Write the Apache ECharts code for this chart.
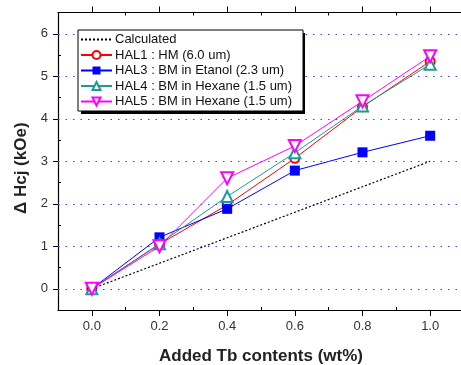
<!DOCTYPE html>
<html>
<head>
<meta charset="utf-8">
<script src="https://cdn.jsdelivr.net/npm/echarts@6/dist/echarts.min.js"></script>
<style>
  html, body { margin: 0; padding: 0; background: #fff; }
  #chart { width: 461px; height: 365px; }
</style>
</head>
<body>
<div id="chart"></div>
<script>
// data
const tbContent = [0.0, 0.2, 0.4, 0.6, 0.8, 1.0];
const calculated = [0, 0.6, 1.2, 1.8, 2.4, 3.0];
const hal1 = [0, 1.05, 1.97, 3.07, 4.28, 5.35];
const hal3 = [0, 1.21, 1.88, 2.78, 3.21, 3.6];
const hal4 = [0, 1.06, 2.17, 3.2, 4.3, 5.28];
const hal5 = [0, 1.0, 2.6, 3.36, 4.41, 5.47];

const xMajorTicks = [0.0, 0.2, 0.4, 0.6, 0.8, 1.0];
const xMinorTicks = [0.1, 0.3, 0.5, 0.7, 0.9];
const yMajorTicks = [0, 1, 2, 3, 4, 5, 6];
const yMinorTicks = [0.5, 1.5, 2.5, 3.5, 4.5, 5.5];
const gridValues = [0, 1, 2, 3, 4, 5, 6];

const seriesNames = [
    'Calculated',
    'HAL1 : HM (6.0 um)',
    'HAL3 : BM in Etanol (2.3 um)',
    'HAL4 : BM in Hexane (1.5 um)',
    'HAL5 : BM in Hexane (1.5 um)'
];

const FONT = 'Liberation Sans, Arial, sans-serif';
const pts = arr => tbContent.map((x, i) => [x, arr[i]]);
// the right border of the plot lies just outside the picture
const gridBox = { left: 58, top: 12.5, width: 406, height: 297.5, containLabel: false, outerBoundsMode: 'none' };

const blackLine = { onZero: false, lineStyle: { color: '#000', width: 1.2 } };
const noLine = { show: false, onZero: false };

const chart = echarts.init(document.getElementById('chart'), null, { renderer: 'canvas' });

chart.setOption({
    animation: false,
    backgroundColor: '#fff',
    grid: [
        Object.assign({}, gridBox),
        Object.assign({}, gridBox)
    ],
    // hard drop shadow of the legend box
    graphic: [{
        type: 'rect', z: 0, silent: true,
        shape: { x: 81, y: 33, width: 224, height: 81 },
        style: { fill: '#000' }
    }],
    legend: {
        orient: 'vertical',
        left: 78, top: 30,
        padding: [3, 11, 3, 2],
        itemGap: 2.5,
        itemWidth: 31,
        itemHeight: 10,
        backgroundColor: '#fff',
        borderColor: '#000',
        borderWidth: 1,
        z: 10,
        textStyle: { fontFamily: FONT, fontSize: 13, color: '#111', padding: [0, 0, 0, -2] },
        data: [
            { name: seriesNames[0], itemStyle: { opacity: 0 } },
            seriesNames[1], seriesNames[2], seriesNames[3], seriesNames[4]
        ]
    },
    xAxis: [
        {
            type: 'value', gridIndex: 0, position: 'bottom',
            min: -0.1, max: 1.1, interval: 0.1,
            axisLine: blackLine,
            axisTick: { customValues: xMajorTicks, length: 6, inside: false, lineStyle: { color: '#000' } },
            axisLabel: {
                customValues: xMajorTicks, margin: 10,
                formatter: v => v.toFixed(1),
                fontFamily: FONT, fontSize: 13, color: '#333'
            },
            splitLine: { show: false },
            name: 'Added Tb contents (wt%)',
            nameLocation: 'middle', nameGap: 38,
            nameTextStyle: { fontFamily: FONT, fontSize: 17, fontWeight: 'bold', color: '#222' }
        },
        {
            type: 'value', gridIndex: 0, position: 'top',
            min: -0.1, max: 1.1, interval: 0.1,
            axisLine: blackLine,
            axisTick: { customValues: xMajorTicks, length: 6, inside: false, lineStyle: { color: '#000' } },
            axisLabel: { show: false },
            splitLine: { show: false }
        },
        {
            type: 'value', gridIndex: 1, position: 'bottom',
            min: -0.1, max: 1.1, interval: 0.1,
            axisLine: noLine,
            axisTick: { customValues: xMinorTicks, length: 3, inside: true, lineStyle: { color: '#000' } },
            axisLabel: { show: false },
            splitLine: { show: false }
        },
        {
            type: 'value', gridIndex: 1, position: 'top',
            min: -0.1, max: 1.1, interval: 0.1,
            axisLine: noLine,
            axisTick: { customValues: xMinorTicks, length: 3, inside: true, lineStyle: { color: '#000' } },
            axisLabel: { show: false },
            splitLine: { show: false }
        }
    ],
    yAxis: [
        {
            type: 'value', gridIndex: 0, position: 'left',
            min: -0.5, max: 6.5, interval: 0.5,
            axisLine: Object.assign({ show: true }, blackLine),
            axisTick: { show: true, customValues: yMajorTicks, length: 5, inside: false, lineStyle: { color: '#000' } },
            axisLabel: {
                customValues: yMajorTicks, margin: 10,
                fontFamily: FONT, fontSize: 13, color: '#333'
            },
            splitLine: { show: false },
            name: 'Δ Hcj (kOe)',
            nameLocation: 'middle', nameGap: 26, nameRotate: 90,
            nameTextStyle: { fontFamily: FONT, fontSize: 17, fontWeight: 'bold', color: '#222', padding: [0, 14, 0, 0] }
        },
        {
            type: 'value', gridIndex: 1, position: 'left',
            min: -0.5, max: 6.5, interval: 0.5,
            axisLine: noLine,
            axisTick: { show: true, customValues: yMinorTicks, length: 3, inside: true, lineStyle: { color: '#000' } },
            axisLabel: { show: false },
            splitLine: { show: false }
        }
    ],
    series: [
        {
            name: seriesNames[0], type: 'line',
            data: pts(calculated),
            symbol: 'none',
            lineStyle: { color: '#000', width: 1.2, type: [2, 2] },
            itemStyle: { color: '#000' },
            markLine: {
                silent: true, symbol: 'none',
                label: { show: false },
                lineStyle: { color: '#3344ee', width: 1, type: [1.5, 6] },
                data: gridValues.map(v => ({ yAxis: v }))
            },
            z: 1
        },
        {
            name: seriesNames[1], type: 'line',
            data: pts(hal1),
            symbol: 'emptyCircle', symbolSize: 9,
            lineStyle: { color: '#ff0000', width: 1 },
            itemStyle: { color: '#ff0000', borderWidth: 1 },
            z: 2
        },
        {
            name: seriesNames[2], type: 'line',
            data: pts(hal3),
            symbol: 'rect', symbolSize: 10,
            lineStyle: { color: '#0000ff', width: 1 },
            itemStyle: { color: '#0000ff' },
            z: 3
        },
        {
            name: seriesNames[3], type: 'line',
            data: pts(hal4),
            symbol: 'emptyTriangle', symbolSize: 11,
            lineStyle: { color: '#1f9a94', width: 1 },
            itemStyle: { color: '#1f9a94', borderWidth: 1 },
            z: 4
        },
        {
            name: seriesNames[4], type: 'line',
            data: pts(hal5),
            symbol: 'emptyTriangle', symbolSize: 12, symbolRotate: 180,
            lineStyle: { color: '#ff00ff', width: 1 },
            itemStyle: { color: '#ff00ff', borderWidth: 1 },
            z: 5
        }
    ]
});
</script>
</body>
</html>
